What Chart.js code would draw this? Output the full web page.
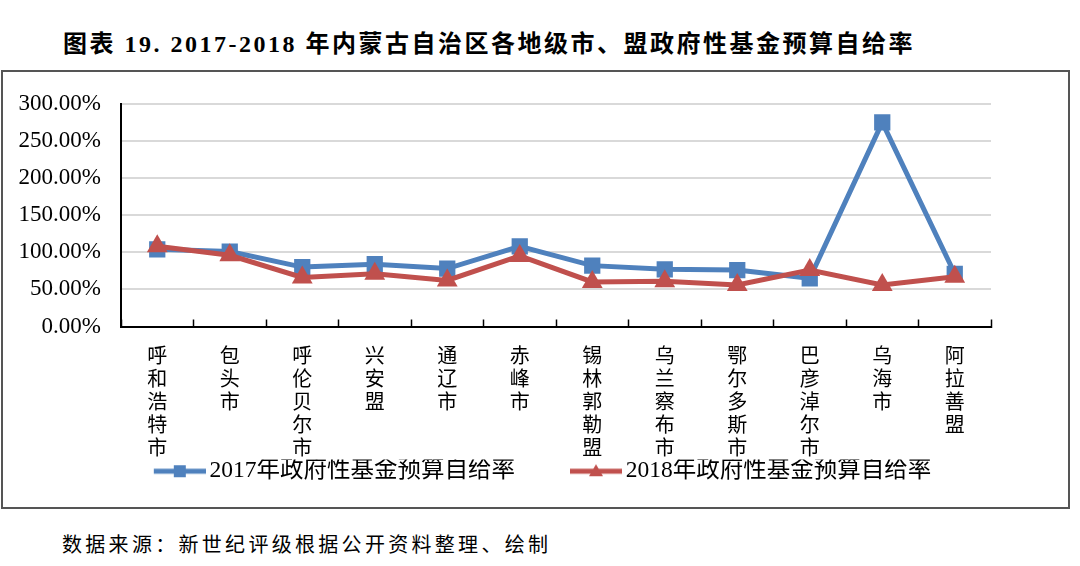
<!DOCTYPE html>
<html>
<head>
<meta charset="utf-8">
<script src="https://cdn.jsdelivr.net/npm/chart.js@4/dist/chart.umd.min.js"></script>
<style>
  body { margin: 0; width: 1080px; height: 566px; background: #fff; position: relative; overflow: hidden; }
  #title { position: absolute; left: 63px; top: 24px; font: bold 24px "Liberation Serif", "Noto Sans CJK SC"; letter-spacing: 2.5px; color: #000; white-space: nowrap; }
  #frame { position: absolute; left: 1px; top: 70px; width: 1069px; height: 439px; border: 2px solid #555; box-sizing: border-box; }
  #wrap { position: absolute; left: 0; top: 70px; width: 1080px; height: 438px; }
  #source { position: absolute; left: 62px; top: 529px; font: 20px "Noto Sans CJK SC"; letter-spacing: 3.3px; color: #000; white-space: nowrap; }
</style>
</head>
<body>
<div id="title">图表 19. 2017-2018 年内蒙古自治区各地级市、盟政府性基金预算自给率</div>
<div id="frame"></div>
<div id="wrap"><canvas id="canva" width="1080" height="438"></canvas></div>
<div id="source">数据来源：新世纪评级根据公开资料整理、绘制</div>
<script>
const regions = ["呼和浩特市", "包头市", "呼伦贝尔市", "兴安盟", "通辽市", "赤峰市", "锡林郭勒盟", "乌兰察布市", "鄂尔多斯市", "巴彦淖尔市", "乌海市", "阿拉善盟"];
const rate2017 = [104, 101, 80, 84, 78, 108, 82, 77, 76, 65, 275, 71];
const rate2018 = [108, 96, 66, 71, 62, 95, 60, 61, 56, 76, 56, 67];
const seriesNames = ["2017年政府性基金预算自给率", "2018年政府性基金预算自给率"];
const yTicks = [0, 50, 100, 150, 200, 250, 300];

const blue = "#4F81BD";
const red = "#C0504D";

// line + marker picture for the legend; the line sits in the right 52px,
// the blank left part only makes room between the two legend items
function legendImage(color, shape) {
  const c = document.createElement("canvas");
  c.width = 115;
  c.height = 16;
  const g = c.getContext("2d");
  const x0 = 115 - 52;
  g.strokeStyle = color;
  g.lineWidth = 5;
  g.beginPath();
  g.moveTo(x0, 8);
  g.lineTo(115, 8);
  g.stroke();
  g.fillStyle = color;
  if (shape === "rect") {
    g.fillRect(x0 + 20, 2, 12, 12);
  } else {
    g.beginPath();
    g.moveTo(x0 + 26, 1);
    g.lineTo(x0 + 33, 13);
    g.lineTo(x0 + 19, 13);
    g.closePath();
    g.fill();
  }
  return c;
}
const legendIcons = [legendImage(blue, "rect"), legendImage(red, "triangle")];

const canvas = document.getElementById("canva");
const ctx = canvas.getContext("2d");

let myChart = new Chart(ctx, {
  type: "line",
  data: {
    labels: regions.map((name) => name.split("")),
    datasets: [
      {
        label: seriesNames[0],
        data: rate2017,
        borderColor: blue,
        backgroundColor: blue,
        borderWidth: 5,
        pointStyle: "rect",
        pointRadius: 11.5,
        pointBorderWidth: 0,
        pointBackgroundColor: blue,
        tension: 0,
        order: 1,
      },
      {
        label: seriesNames[1],
        data: rate2018,
        borderColor: red,
        backgroundColor: red,
        borderWidth: 5,
        pointStyle: "triangle",
        pointRadius: 12,
        pointBorderWidth: 0,
        pointBackgroundColor: red,
        tension: 0,
        order: 0,
      },
    ],
  },
  options: {
    responsive: false,
    animation: false,
    layout: { padding: { left: 0, right: 50, top: 30, bottom: 15 } },
    plugins: {
      tooltip: { enabled: false },
      legend: {
        position: "bottom",
        labels: {
          usePointStyle: true,
          pointStyleWidth: 99,
          padding: 0,
          color: "#000",
          font: { family: "'Liberation Serif', 'Noto Sans CJK SC'", size: 23.5 },
          generateLabels: (chart) =>
            chart.data.datasets.map((ds, i) => ({
              text: ds.label,
              pointStyle: legendIcons[i],
              fillStyle: ds.borderColor,
              strokeStyle: ds.borderColor,
              lineWidth: 0,
              datasetIndex: i,
              hidden: false,
            })),
        },
      },
    },
    scales: {
      x: {
        offset: true,
        afterFit: (scale) => {
          scale.height = 133;
        },
        grid: {
          offset: true,
          drawOnChartArea: false,
          tickLength: -7,
          tickColor: "#000",
          tickWidth: 1.5,
        },
        border: { color: "#000", width: 2 },
        ticks: {
          autoSkip: false,
          maxRotation: 0,
          padding: 24,
          color: "#000",
          font: { family: "'Noto Sans CJK SC'", size: 20, lineHeight: 1.16 },
        },
      },
      y: {
        min: 0,
        max: 300,
        afterFit: (scale) => {
          scale.width = 121;
        },
        afterBuildTicks: (scale) => {
          scale.ticks = yTicks.map((v) => ({ value: v }));
        },
        grid: { color: "#D9D9D9", lineWidth: 2, drawTicks: false },
        border: { color: "#000", width: 2 },
        ticks: {
          padding: 20,
          color: "#000",
          font: { family: "'Liberation Serif'", size: 23 },
          callback: (v) => v.toFixed(2) + "%",
        },
      },
      // empty right-hand axis: keeps the plot's right edge where the legend needs it
      y2: {
        position: "right",
        afterFit: (scale) => {
          scale.width = 39;
        },
        grid: { display: false },
        border: { display: false },
        ticks: { display: false },
      },
    },
  },
});
</script>
</body>
</html>
